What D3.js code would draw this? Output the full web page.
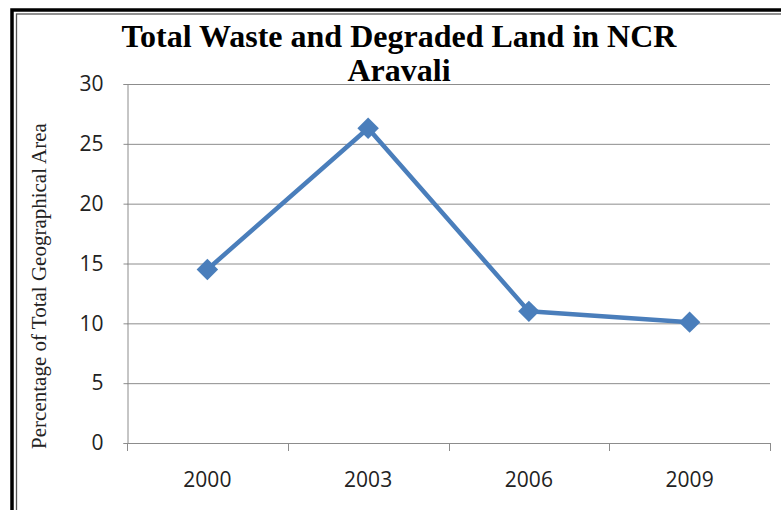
<!DOCTYPE html>
<meta charset="utf-8">
<script src="https://d3js.org/d3.v7.min.js"></script>
<style>
  body { margin: 0; background: #fff; }
</style>
<div id="chart"></div>
<script>
  // data
  var years = ["2000", "2003", "2006", "2009"];
  var wasteLand = [14.5, 26.3, 11.0, 10.1];
  var yTicks = [0, 5, 10, 15, 20, 25, 30];

  var W = 781, H = 510;
  var margin = { top: 84, right: 11, bottom: 67, left: 127 },
    width = W - margin.left - margin.right,
    height = H - margin.top - margin.bottom;

  var svg = d3.select("#chart")
    .append("svg")
    .attr("width", W)
    .attr("height", H);

  // double frame round the chart
  svg.append("rect")
    .attr("x", 12).attr("y", 10)
    .attr("width", W + 20).attr("height", H + 20)
    .attr("fill", "none").attr("stroke", "#000").attr("stroke-width", 3.5);
  svg.append("rect")
    .attr("x", 16.5).attr("y", 14)
    .attr("width", W + 20).attr("height", H + 20)
    .attr("fill", "none").attr("stroke", "#555").attr("stroke-width", 1.3);

  var g = svg.append("g")
    .attr("transform", "translate(" + margin.left + "," + margin.top + ")");

  var x = d3.scaleBand().domain(years).range([0, width]);
  var y = d3.scaleLinear().domain([0, 30]).range([height, 0]);

  // gridlines
  g.selectAll(".grid")
    .data(yTicks)
    .enter()
    .append("line")
    .attr("x1", 0).attr("x2", width)
    .attr("y1", function (d) { return y(d) + 0.5; })
    .attr("y2", function (d) { return y(d) + 0.5; })
    .attr("stroke", "#8c8c8c").attr("stroke-width", 1);

  // y axis
  var yAxis = g.append("g")
    .attr("transform", "translate(0.5,0)")
    .call(d3.axisLeft(y).tickValues(yTicks).tickSize(4).tickPadding(20));
  yAxis.select(".domain").attr("stroke", "#8c8c8c");
  yAxis.selectAll(".tick line").attr("stroke", "#8c8c8c");
  yAxis.selectAll("text")
    .attr("fill", "#222")
    .style("font-family", "'Open Sans', sans-serif")
    .style("font-size", "21px");

  // x axis: ticks between categories
  var xAxis = g.append("g")
    .attr("transform", "translate(0," + (height + 0.5) + ")")
    .call(d3.axisBottom(x).tickSize(0).tickPadding(29));
  xAxis.select(".domain").remove();
  xAxis.selectAll("text")
    .attr("fill", "#222")
    .style("font-family", "'Open Sans', sans-serif")
    .style("font-size", "21px");
  var bounds = years.map(function (d) { return x(d); }).concat([width]);
  g.selectAll(".xtick")
    .data(bounds)
    .enter()
    .append("line")
    .attr("x1", function (d) { return Math.round(d) + 0.5; })
    .attr("x2", function (d) { return Math.round(d) + 0.5; })
    .attr("y1", height).attr("y2", height + 8)
    .attr("stroke", "#8c8c8c");

  // the series line
  var pts = years.map(function (d, i) { return { year: d, value: wasteLand[i] }; });
  var line = d3.line()
    .x(function (d) { return x(d.year) + x.bandwidth() / 2; })
    .y(function (d) { return y(d.value); });

  g.append("path")
    .datum(pts)
    .attr("d", line)
    .attr("fill", "none")
    .attr("stroke", "#4a7ebb")
    .attr("stroke-width", 4.5)
    .attr("stroke-linejoin", "round");

  // diamond markers
  g.selectAll(".marker")
    .data(pts)
    .enter()
    .append("path")
    .attr("d", d3.symbol().type(d3.symbolSquare).size(230))
    .attr("transform", function (d) {
      return "translate(" + (x(d.year) + x.bandwidth() / 2) + "," + y(d.value) + ") rotate(45)";
    })
    .attr("fill", "#4a7ebb");

  // title
  var title = svg.append("text")
    .attr("text-anchor", "middle")
    .style("font-family", "'Liberation Serif', 'Times New Roman', serif")
    .style("font-weight", "bold")
    .style("font-size", "32px")
    .attr("fill", "#000");
  title.append("tspan").attr("x", 399).attr("y", 47).text("Total Waste and Degraded Land in NCR");
  title.append("tspan").attr("x", 399).attr("y", 81).text("Aravali");

  // y axis title
  svg.append("text")
    .attr("transform", "translate(46,286) rotate(-90)")
    .attr("text-anchor", "middle")
    .style("font-family", "'Liberation Serif', 'Times New Roman', serif")
    .style("font-size", "21px")
    .attr("fill", "#222")
    .text("Percentage of Total Geographical Area");
</script>
